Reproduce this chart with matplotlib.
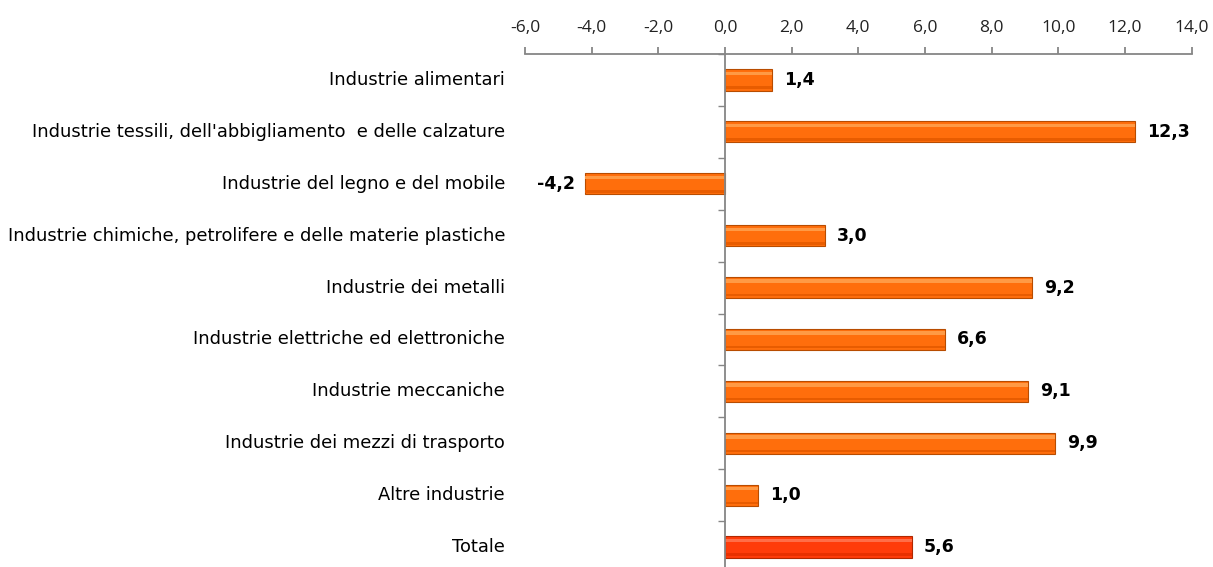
import matplotlib
matplotlib.use("Agg")
import matplotlib.pyplot as plt
import matplotlib.transforms as mtransforms

categories = [
    "Industrie alimentari",
    "Industrie tessili, dell'abbigliamento  e delle calzature",
    "Industrie del legno e del mobile",
    "Industrie chimiche, petrolifere e delle materie plastiche",
    "Industrie dei metalli",
    "Industrie elettriche ed elettroniche",
    "Industrie meccaniche",
    "Industrie dei mezzi di trasporto",
    "Altre industrie",
    "Totale",
]
values = [1.4, 12.3, -4.2, 3.0, 9.2, 6.6, 9.1, 9.9, 1.0, 5.6]
xticks = [-6, -4, -2, 0, 2, 4, 6, 8, 10, 12, 14]

W, H = 1213, 567
fig = plt.figure(figsize=(W / 100, H / 100), dpi=100)
left, right, top, bottom = 525, 1191.7, 54, 573
ax = fig.add_axes([left / W, 1 - bottom / H, (right - left) / W, (bottom - top) / H])

n = len(categories)
ypos = list(range(n))
bh = 0.41
base_cols = ["#FF6E0C"] * (n - 1) + ["#FF3C0A"]
edge_cols = ["#B84C00"] * (n - 1) + ["#B02800"]
hi_cols = ["#FF9A45"] * (n - 1) + ["#FF6E48"]
lo_cols = ["#E85C00"] * (n - 1) + ["#E83000"]

ax.barh(ypos, values, height=bh, color=base_cols, edgecolor=edge_cols, linewidth=0.8, zorder=2)
# bevel highlight (top) and shade (bottom)
ax.barh([y - bh * 0.30 for y in ypos], values, height=bh * 0.16, color=hi_cols, linewidth=0, zorder=3)
ax.barh([y + bh * 0.36 for y in ypos], values, height=bh * 0.12, color=lo_cols, linewidth=0, zorder=3)

ax.set_xlim(-6, 14)
ax.set_ylim(n - 0.5, -0.5)

spine_col = "#868686"
for s in ["right", "bottom"]:
    ax.spines[s].set_visible(False)
ax.spines["top"].set_color(spine_col)
ax.spines["left"].set_color(spine_col)
ax.spines["left"].set_position(("data", 0))
ax.spines["top"].set_linewidth(1.3)
ax.spines["left"].set_linewidth(1.3)
ax.spines["left"].set_zorder(5)

ax.xaxis.set_ticks_position("top")
ax.set_xticks(xticks)
ax.set_xticklabels([f"{t:.1f}".replace(".", ",") for t in xticks],
                   fontfamily="Open Sans", fontsize=12.5, color="#222222")
ax.tick_params(axis="x", direction="out", length=5, width=1.3, color=spine_col, pad=8)

ax.set_yticks([i + 0.5 for i in range(n - 1)] + [-0.5])
ax.set_yticklabels([])
ax.tick_params(axis="y", direction="out", length=5, width=1, color=spine_col)

trans = mtransforms.blended_transform_factory(ax.transAxes, ax.transData)
for y, c in zip(ypos, categories):
    ax.text(-20 / (right - left), y, c, transform=trans, ha="right", va="center",
            fontsize=12.9, fontfamily="DejaVu Sans", color="#000000")

offset = mtransforms.ScaledTranslation(12 / 100, 0, fig.dpi_scale_trans)
noffset = mtransforms.ScaledTranslation(-10 / 100, 0, fig.dpi_scale_trans)
for y, v in zip(ypos, values):
    lab = f"{v:.1f}".replace(".", ",")
    if v >= 0:
        ax.text(v, y, lab, transform=ax.transData + offset, ha="left", va="center",
                fontsize=12.5, fontweight="bold", fontfamily="DejaVu Sans")
    else:
        ax.text(v, y, lab, transform=ax.transData + noffset, ha="right", va="center",
                fontsize=12.5, fontweight="bold", fontfamily="DejaVu Sans")

fig.savefig("out.png", dpi=100)
